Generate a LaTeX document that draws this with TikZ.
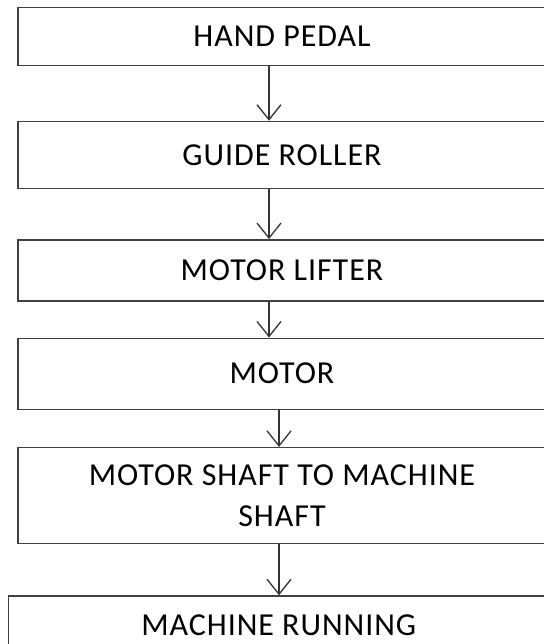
\documentclass[tikz,border=0pt]{standalone}
\usepackage{fontspec}
\setmainfont[LetterSpace=3]{Carlito}
\usetikzlibrary{arrows.meta,positioning}

\begin{document}
\begin{tikzpicture}[
  x=1pt,y=-1pt,
  stage/.style={rectangle,draw=black!75,line width=1.4pt,text=black,
    minimum width=528pt,inner sep=0pt,align=center,
    font=\fontsize{32}{41}\selectfont},
  flow/.style={-{Straight Barb[length=15pt,width=24pt]},line width=1.3pt,draw=black!80}
]
  \useasboundingbox (0,0) rectangle (543,644);
  \node[stage,minimum height=58.4pt] (pedal) at (282,36.5) {HAND PEDAL};
  \node[stage,minimum height=67pt,below=54.3pt of pedal] (roller) {GUIDE ROLLER};
  \node[stage,minimum height=61pt,below=50pt of roller] (lifter) {MOTOR LIFTER};
  \node[stage,minimum height=71pt,below=36pt of lifter] (motor) {MOTOR};
  \node[stage,minimum height=96pt,below=37pt of motor] (shaft) {MOTOR SHAFT TO MACHINE\\SHAFT};
  \node[stage,minimum height=58pt,minimum width=540pt,below=51pt of shaft,xshift=-3.3pt] (running) {MACHINE RUNNING};
  \draw[flow] ([xshift=-13pt]pedal.south) -- ([xshift=-13pt]roller.north);
  \draw[flow] ([xshift=-13pt]roller.south) -- ([xshift=-13pt]lifter.north);
  \draw[flow] ([xshift=-13pt]lifter.south) -- ([xshift=-13pt]motor.north);
  \draw[flow] ([xshift=-3pt]motor.south) -- ([xshift=-3pt]shaft.north);
  \draw[flow] ([xshift=-3pt]shaft.south) -- ([xshift=-3pt]shaft.south |- running.north);
\end{tikzpicture}
\end{document}
